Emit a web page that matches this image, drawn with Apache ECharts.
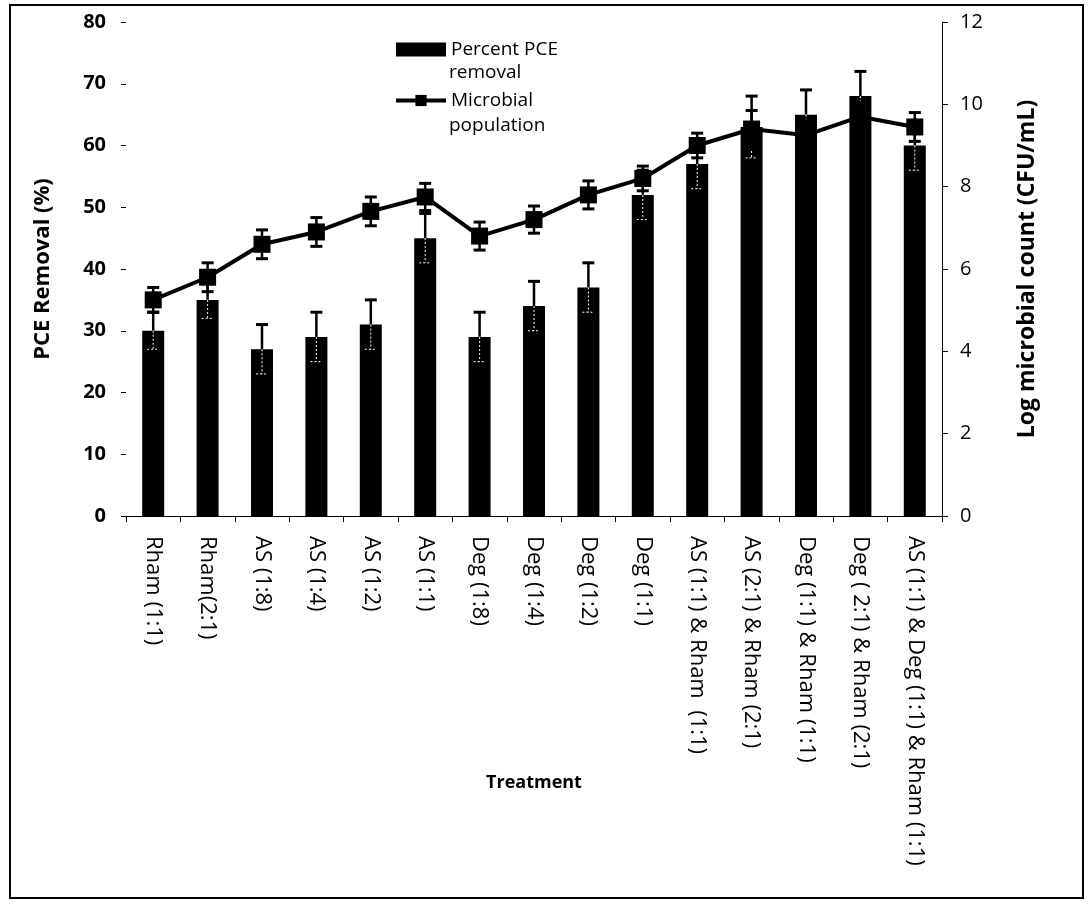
<!DOCTYPE html>
<html>
<head>
<meta charset="utf-8">
<script src="https://cdn.jsdelivr.net/npm/echarts@6/dist/echarts.min.js"></script>
<style>
html,body{margin:0;padding:0;background:#fff;}
#chart{width:1092px;height:905px;}
</style>
</head>
<body>
<div id="chart"></div>
<script>
const categories = [
  'Rham (1:1)', 'Rham(2:1)', 'AS (1:8)', 'AS (1:4)', 'AS (1:2)', 'AS (1:1)',
  'Deg (1:8)', 'Deg (1:4)', 'Deg (1:2)', 'Deg (1:1)',
  'AS (1:1) & Rham  (1:1)', 'AS (2:1) & Rham (2:1)', 'Deg (1:1) & Rham (1:1)',
  'Deg ( 2:1) & Rham (2:1)', 'AS (1:1) & Deg (1:1) & Rham (1:1)'
];
const pceRemoval = [30, 35, 27, 29, 31, 45, 29, 34, 37, 52, 57, 63, 65, 68, 60];
const pceError = [3, 3, 4, 4, 4, 4, 4, 4, 4, 4, 4, 5, 4, 4, 4];
const microbial = [5.25, 5.8, 6.6, 6.9, 7.4, 7.75, 6.8, 7.2, 7.8, 8.2, 9.0, 9.4, 9.25, 9.7, 9.45];
const microbialError = [0.3, 0.35, 0.35, 0.35, 0.35, 0.33, 0.34, 0.33, 0.34, 0.3, 0.3, 0.45, 0.35, 0.35, 0.35];
const leftTicks = { min: 0, max: 80, interval: 10 };
const rightTicks = { min: 0, max: 12, interval: 2 };
const legendNames = ['Percent PCE\nremoval', 'Microbial\npopulation'];

const FONT = '"Open Sans", Lato, sans-serif';

const chart = echarts.init(document.getElementById('chart'), null, { renderer: 'canvas' });

function barErrRender(params, api) {
  const i = api.value(0);
  const v = api.value(1);
  const e = api.value(2);
  const top = api.coord([i, v + e]);
  const mid = api.coord([i, v]);
  const bot = api.coord([i, v - e]);
  const x = top[0];
  const cap = 6;
  return {
    type: 'group',
    children: [
      { type: 'line', shape: { x1: x, y1: top[1], x2: x, y2: mid[1] }, style: { stroke: '#000', lineWidth: 2.5 } },
      { type: 'line', shape: { x1: x - cap, y1: top[1], x2: x + cap, y2: top[1] }, style: { stroke: '#000', lineWidth: 3 } },
      { type: 'line', shape: { x1: x, y1: mid[1], x2: x, y2: bot[1] }, style: { stroke: '#fff', lineWidth: 1, lineDash: [2, 2] } },
      { type: 'line', shape: { x1: x - cap, y1: bot[1], x2: x + cap, y2: bot[1] }, style: { stroke: '#fff', lineWidth: 1, lineDash: [2, 2] } }
    ]
  };
}

function lineErrRender(params, api) {
  const i = api.value(0);
  const v = api.value(1);
  const e = api.value(2);
  const top = api.coord([i, v + e]);
  const bot = api.coord([i, v - e]);
  const x = top[0];
  const cap = 6;
  return {
    type: 'group',
    children: [
      { type: 'line', shape: { x1: x, y1: top[1], x2: x, y2: bot[1] }, style: { stroke: '#000', lineWidth: 2.5 } },
      { type: 'line', shape: { x1: x - cap, y1: top[1], x2: x + cap, y2: top[1] }, style: { stroke: '#000', lineWidth: 3 } },
      { type: 'line', shape: { x1: x - cap, y1: bot[1], x2: x + cap, y2: bot[1] }, style: { stroke: '#000', lineWidth: 3 } }
    ]
  };
}

const legendTextStyle = { fontFamily: FONT, fontSize: 19, color: '#000' };

const option = {
  backgroundColor: '#fff',
  animation: false,
  textStyle: { fontFamily: FONT, color: '#000' },
  grid: { left: 126, right: 150, top: 22, bottom: 389, containLabel: false },
  legend: {
    orient: 'vertical',
    left: 389,
    top: 32,
    itemWidth: 50,
    itemHeight: 14,
    itemGap: 26,
    selectedMode: false,
    formatter: function (name) { return name.split('\n')[0]; },
    textStyle: Object.assign({ lineHeight: 25 }, legendTextStyle),
    lineStyle: { width: 4 },
    data: [
      { name: legendNames[0], icon: 'rect' },
      { name: legendNames[1] }
    ]
  },
  xAxis: {
    type: 'category',
    data: categories,
    name: 'Treatment',
    nameLocation: 'middle',
    nameGap: 258,
    nameMoveOverlap: false,
    nameTextStyle: { fontFamily: FONT, fontSize: 18, fontWeight: 'bold', color: '#000' },
    axisLine: { show: true, lineStyle: { color: '#000', width: 1 } },
    axisTick: { show: true, length: 6, lineStyle: { color: '#000' }, alignWithLabel: false },
    axisLabel: { rotate: -90, margin: 20, fontFamily: FONT, fontSize: 22, color: '#000', interval: 0 },
    splitLine: { show: false }
  },
  yAxis: [
    {
      type: 'value',
      min: leftTicks.min, max: leftTicks.max, interval: leftTicks.interval,
      name: 'PCE Removal (%)',
      nameLocation: 'middle',
      nameGap: 72,
      nameTextStyle: { fontFamily: FONT, fontSize: 22, fontWeight: 'bold', color: '#000' },
      axisLine: { show: false },
      axisTick: { show: true, length: 5, inside: false, lineStyle: { color: '#000' } },
      axisLabel: { fontFamily: FONT, fontSize: 20, fontWeight: 'bold', color: '#000', margin: 20 },
      splitLine: { show: false }
    },
    {
      type: 'value',
      min: rightTicks.min, max: rightTicks.max, interval: rightTicks.interval,
      name: 'Log microbial count (CFU/mL)',
      nameLocation: 'middle',
      nameGap: 74,
      nameRotate: 90,
      nameTextStyle: { fontFamily: FONT, fontSize: 23, fontWeight: 'bold', color: '#000' },
      position: 'right',
      axisLine: { show: true, lineStyle: { color: '#000', width: 1 } },
      axisTick: { show: true, length: 6, lineStyle: { color: '#000' } },
      axisLabel: { fontFamily: FONT, fontSize: 20, color: '#000', margin: 18 },
      splitLine: { show: false }
    }
  ],
  graphic: [
    { type: 'rect', shape: { x: 10, y: 5, width: 1073, height: 893 }, style: { fill: 'none', stroke: '#000', lineWidth: 2 }, silent: true, z: 100 },
    { type: 'text', left: 449, top: 63, style: Object.assign({ text: legendNames[0].split('\n')[1] }, legendTextStyle) },
    { type: 'text', left: 449, top: 116, style: Object.assign({ text: legendNames[1].split('\n')[1] }, legendTextStyle) }
  ],
  series: [
    {
      name: legendNames[0],
      type: 'bar',
      yAxisIndex: 0,
      data: pceRemoval,
      barWidth: 22,
      itemStyle: { color: '#000' },
      z: 2
    },
    {
      name: 'bar-error',
      type: 'custom',
      yAxisIndex: 0,
      renderItem: barErrRender,
      data: pceRemoval.map((v, i) => [i, v, pceError[i]]),
      z: 3
    },
    {
      name: 'line-error',
      type: 'custom',
      yAxisIndex: 1,
      renderItem: lineErrRender,
      data: microbial.map((v, i) => [i, v, microbialError[i]]),
      z: 4
    },
    {
      name: legendNames[1],
      type: 'line',
      yAxisIndex: 1,
      data: microbial,
      symbol: 'rect',
      symbolSize: 17,
      lineStyle: { color: '#000', width: 4 },
      itemStyle: { color: '#000' },
      z: 5
    }
  ]
};
chart.setOption(option);
</script>
</body>
</html>
